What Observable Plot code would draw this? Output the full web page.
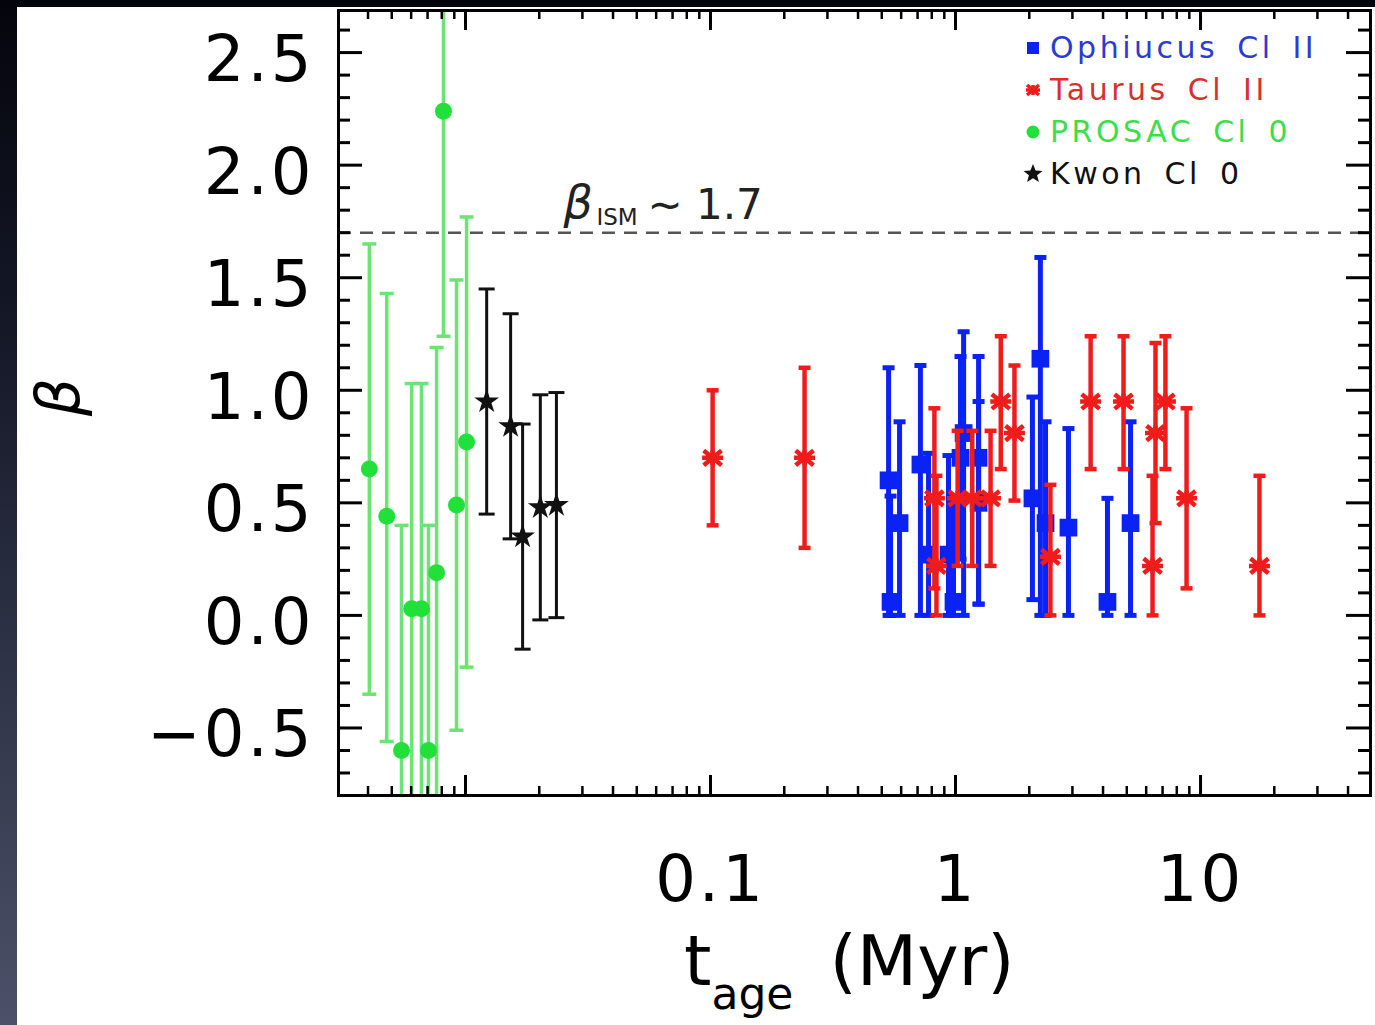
<!DOCTYPE html>
<html><head><meta charset="utf-8">
<script src="https://cdn.jsdelivr.net/npm/d3@7"></script>
<script src="https://cdn.jsdelivr.net/npm/@observablehq/plot@0.6"></script>
<style>
html,body{margin:0;padding:0;}
body{width:1375px;height:1025px;overflow:hidden;position:relative;
  background:linear-gradient(to bottom,#04050c 0%,#161a2a 35%,#4c5169 100%);
  font-family:"DejaVu Sans",sans-serif;}
#panel{position:absolute;left:17px;top:7px;right:0;bottom:0;background:#fff;}
#chart{position:absolute;left:0;top:0;}
#chart svg g[aria-label="y-axis tick label"] text,
#chart svg g[aria-label="x-axis tick label"] text{letter-spacing:3px;}
#legend{position:absolute;left:1022px;top:27px;font-size:30px;letter-spacing:3.5px;word-spacing:6px;line-height:42px;}
#legend .row{height:42px;white-space:nowrap;display:flex;align-items:center;}
#legend svg{width:22px;height:22px;margin-right:6px;}
#xlabel{position:absolute;left:684px;top:920px;font-size:70px;white-space:nowrap;color:#000;}
#xlabel .sub{font-size:44px;position:relative;top:24px;margin-right:36px;}
#ylabel{position:absolute;left:28px;top:362px;font-size:60px;transform:rotate(-90deg);transform-origin:center;width:60px;height:70px;text-align:center;line-height:70px;font-style:italic;}
</style></head>
<body>
<div id="panel"></div>
<div id="chart"></div>
<div id="legend">
  <div class="row" style="color:#2c3bd0"><svg viewBox="-11 -11 22 22"><rect x="-6" y="-6" width="12" height="12" fill="#0b22f5"/></svg>Ophiucus Cl II</div>
  <div class="row" style="color:#d8302c"><svg viewBox="-11 -11 22 22"><g stroke="#f01c1c" stroke-width="3.5"><line x1="-7" y1="0" x2="7" y2="0"/><line x1="-6" y1="-5" x2="6" y2="5"/><line x1="-6" y1="5" x2="6" y2="-5"/><line x1="0" y1="-5" x2="0" y2="5"/></g></svg>Taurus Cl II</div>
  <div class="row" style="color:#3fdc4c"><svg viewBox="-11 -11 22 22"><circle r="6.5" fill="#22e03a"/></svg>PROSAC Cl 0</div>
  <div class="row" style="color:#111"><svg viewBox="-11 -11 22 22"><path d="M0,-10 L2.6,-3.4 L9.5,-3.1 L4.1,1.3 L5.9,8.1 L0,4.2 L-5.9,8.1 L-4.1,1.3 L-9.5,-3.1 L-2.6,-3.4Z" fill="#111"/></svg>Kwon Cl 0</div>
</div>
<div id="xlabel">t<span class="sub">age</span>(Myr)</div>
<div id="ylabel">β</div>
<script>
// ---- data ----
const prosacAge  = [0.00405, 0.00477, 0.00548, 0.00603, 0.00661, 0.00706, 0.00762, 0.00813, 0.00919, 0.0101];
const prosacBeta = [0.65, 0.44, -0.60, 0.03, 0.03, -0.60, 0.19, 2.24, 0.49, 0.77];
const prosacLo   = [-0.35, -0.56, -1.60, -0.97, -0.97, -1.60, -0.81, 1.24, -0.51, -0.23];
const prosacHi   = [1.65, 1.43, 0.40, 1.03, 1.03, 0.40, 1.19, 3.24, 1.49, 1.77];

const kwonAge  = [0.0122, 0.01528, 0.0171, 0.0202, 0.0235];
const kwonBeta = [0.95, 0.84, 0.35, 0.48, 0.49];
const kwonLo   = [0.45, 0.34, -0.15, -0.02, -0.01];
const kwonHi   = [1.45, 1.34, 0.85, 0.98, 0.99];

const ophAge  = [0.533, 0.543, 0.591, 0.719, 0.776, 0.936, 0.981, 1.079, 1.048, 1.242, 1.242, 2.06, 2.22, 2.33, 2.89, 4.17, 5.18];
const ophBeta = [0.60, 0.06, 0.41, 0.67, 0.27, 0.27, 0.06, 0.81, 0.70, 0.70, 0.50, 0.52, 1.14, 0.41, 0.39, 0.06, 0.41];
const ophLo   = [0.00, 0.00, 0.00, 0.00, 0.00, 0.00, 0.00, 0.00, 0.25, 0.05, 0.05, 0.07, 0.00, 0.00, 0.00, 0.00, 0.00];
const ophHi   = [1.10, 0.53, 0.86, 1.11, 0.72, 0.71, 0.52, 1.26, 1.15, 1.15, 0.95, 0.97, 1.59, 0.86, 0.83, 0.52, 0.86];

const tauAge  = [0.102, 0.242, 0.820, 0.836, 1.02, 1.17, 1.39, 1.53, 1.74, 2.44, 3.56, 4.85, 6.37, 6.55, 7.19, 8.77, 17.4];
const tauBeta = [0.70, 0.70, 0.52, 0.22, 0.52, 0.52, 0.52, 0.95, 0.81, 0.26, 0.95, 0.95, 0.22, 0.81, 0.95, 0.52, 0.22];
const tauLo   = [0.40, 0.30, 0.12, 0.00, 0.22, 0.22, 0.22, 0.65, 0.51, 0.00, 0.65, 0.65, 0.00, 0.41, 0.65, 0.12, 0.00];
const tauHi   = [1.00, 1.10, 0.92, 0.62, 0.82, 0.82, 0.82, 1.24, 1.11, 0.58, 1.24, 1.24, 0.62, 1.21, 1.24, 0.92, 0.62];

const betaISM = 1.7;
const annotAge = 0.0251, annotBeta = 1.83;

const xTickLabels = [0.1, 1, 10];
const xMajorTicks = [0.01, 0.1, 1, 10];
const yTickLabels = [-0.5, 0.0, 0.5, 1.0, 1.5, 2.0, 2.5];

const xDomain = [0.003031, 49.4];
const yDomain = [-0.8, 2.687];

// ---- build ----
const zip = (a, b, lo, hi) => a.map((v, i) => ({age: v, beta: b[i], lo: lo[i], hi: hi[i]}));
const prosac = zip(prosacAge, prosacBeta, prosacLo, prosacHi);
const kwon = zip(kwonAge, kwonBeta, kwonLo, kwonHi);
const oph = zip(ophAge, ophBeta, ophLo, ophHi);
const tau = zip(tauAge, tauBeta, tauLo, tauHi);

const W = 1375, H = 1025, mL = 338, mR = 5, mT = 10, mB = 230;
const fw = W - mL - mR, fh = H - mT - mB;

const yMinor = d3.range(-7, 27).map(d => d / 10).filter(d => Math.abs(d * 2 - Math.round(d * 2)) > 1e-6);
const xMinor = [];
for (let k = -3; k <= 1; k++) for (let m = 2; m <= 9; m++) {
  const v = m * Math.pow(10, k);
  if (v > xDomain[0] && v < xDomain[1]) xMinor.push(v);
}

const capSym = {draw(ctx, size) { const r = Math.sqrt(size / Math.PI); ctx.moveTo(-r, 0); ctx.lineTo(r, 0); }};
const astSym = {draw(ctx, size) {
  const r = Math.sqrt(size / Math.PI);
  ctx.moveTo(-r, 0); ctx.lineTo(r, 0);
  ctx.moveTo(-r * 0.85, -r * 0.7); ctx.lineTo(r * 0.85, r * 0.7);
  ctx.moveTo(-r * 0.85, r * 0.7); ctx.lineTo(r * 0.85, -r * 0.7);
  ctx.moveTo(0, -r * 0.7); ctx.lineTo(0, r * 0.7);
}};

function errorMarks(data, color, sw, capW) {
  return [
    Plot.ruleX(data, {x: "age", y1: "lo", y2: "hi", stroke: color, strokeWidth: sw, clip: true}),
    Plot.dot(data, {x: "age", y: "lo", symbol: capSym, r: capW, stroke: color, fill: "none", strokeWidth: sw, clip: true}),
    Plot.dot(data, {x: "age", y: "hi", symbol: capSym, r: capW, stroke: color, fill: "none", strokeWidth: sw, clip: true})
  ];
}

const green = "#22e03a", greenBar = "#6ee274", blue = "#0b22f5", red = "#f01c1c", black = "#111";

const chart = Plot.plot({
  width: W, height: H,
  marginLeft: mL, marginRight: mR, marginTop: mT, marginBottom: mB,
  style: {background: "transparent", fontFamily: "DejaVu Sans, sans-serif", color: "#000"},
  x: {type: "log", domain: xDomain},
  y: {domain: yDomain},
  marks: [
    Plot.ruleY([betaISM], {stroke: "#555", strokeWidth: 2.5, strokeDasharray: "13,9"}),
    Plot.text([{age: annotAge, beta: annotBeta}], {x: "age", y: "beta", text: () => "β", fontSize: 46, fontStyle: "italic", textAnchor: "start", lineAnchor: "middle", fill: "#222"}),
    Plot.text([{age: annotAge, beta: annotBeta}], {x: "age", y: "beta", text: () => "ISM", fontSize: 23, dx: 33, dy: 14, textAnchor: "start", lineAnchor: "middle", fill: "#222"}),
    Plot.text([{age: annotAge, beta: annotBeta}], {x: "age", y: "beta", text: () => "∼ 1.7", fontSize: 42, dx: 84, dy: 2, textAnchor: "start", lineAnchor: "middle", fill: "#222", style: "letter-spacing:3px"}),

    ...errorMarks(prosac, greenBar, 3.5, 7),
    Plot.dot(prosac, {x: "age", y: "beta", r: 8.5, fill: green, stroke: "none", clip: true}),

    ...errorMarks(kwon, black, 3, 8),
    Plot.dot(kwon, {x: "age", y: "beta", symbol: "star", r: 7.8, fill: black, stroke: "none"}),

    ...errorMarks(oph, blue, 5, 6),
    Plot.dot(oph, {x: "age", y: "beta", symbol: "square", r: 10, fill: blue, stroke: "none"}),

    ...errorMarks(tau, red, 4.5, 6),
    Plot.dot(tau, {x: "age", y: "beta", symbol: astSym, r: 10.5, stroke: red, fill: "none", strokeWidth: 4.5}),

    // frame ticks
    Plot.tickY(yTickLabels, {y: d => d, insetRight: fw - 24, stroke: "#000", strokeWidth: 3}),
    Plot.tickY(yTickLabels, {y: d => d, insetLeft: fw - 24, stroke: "#000", strokeWidth: 3}),
    Plot.tickY(yMinor, {y: d => d, insetRight: fw - 12, stroke: "#000", strokeWidth: 3}),
    Plot.tickY(yMinor, {y: d => d, insetLeft: fw - 12, stroke: "#000", strokeWidth: 3}),
    Plot.tickX(xMajorTicks, {x: d => d, insetTop: fh - 20, stroke: "#000", strokeWidth: 3}),
    Plot.tickX(xMajorTicks, {x: d => d, insetBottom: fh - 20, stroke: "#000", strokeWidth: 3}),
    Plot.tickX(xMinor, {x: d => d, insetTop: fh - 9, stroke: "#000", strokeWidth: 2.5}),
    Plot.tickX(xMinor, {x: d => d, insetBottom: fh - 9, stroke: "#000", strokeWidth: 2.5}),
    Plot.frame({stroke: "#000", strokeWidth: 3}),

    Plot.axisY({anchor: "left", ticks: yTickLabels, tickSize: 0, tickPadding: 24, fontSize: 64, dy: 8, label: null,
      tickFormat: d => d3.format(".1f")(d)}),
    Plot.axisX({anchor: "bottom", ticks: xTickLabels, tickSize: 0, tickPadding: 60, fontSize: 64, label: null,
      tickFormat: d => String(d)})
  ]
});
document.getElementById("chart").appendChild(chart);
</script>
</body></html>
